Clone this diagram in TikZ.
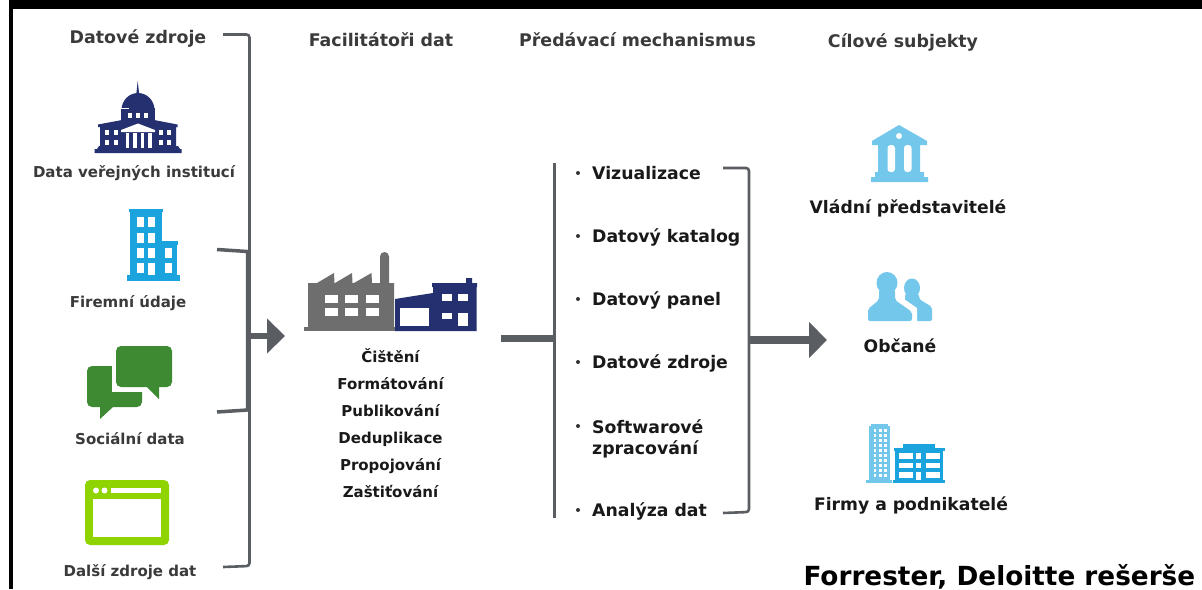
\documentclass[tikz,border=0pt]{standalone}
\usepackage{fontspec}
\setmainfont{DejaVu Sans}
\usepackage{xcolor}
\usetikzlibrary{arrows.meta}
\definecolor{navy}{HTML}{24306F}
\definecolor{skyblue}{HTML}{1BA3DE}
\definecolor{paleblue}{HTML}{72C7EA}
\definecolor{chatgreen}{HTML}{3D8A33}
\definecolor{limegreen}{HTML}{8FD400}
\definecolor{factorygray}{HTML}{6E6E6E}
\definecolor{bracegray}{HTML}{5A5D61}
\definecolor{labelgray}{HTML}{3A3A3A}
\tikzset{
	headlabel/.style={anchor=base,inner sep=0pt,text=labelgray,font=\fontsize{17.4}{19}\selectfont\bfseries},
	srclabel/.style={anchor=base,inner sep=0pt,text=labelgray,font=\fontsize{15}{17}\selectfont\bfseries},
	steplabel/.style={anchor=base,inner sep=0pt,text=black!90,font=\fontsize{15}{17}\selectfont\bfseries},
	listlabel/.style={anchor=base west,inner sep=0pt,text=black!90,font=\fontsize{17.3}{21}\selectfont\bfseries,align=left},
	targetlabel/.style={anchor=base,inner sep=0pt,text=black!90,font=\fontsize{17.2}{19}\selectfont\bfseries},
	brace/.style={draw=bracegray,line width=2.6pt,rounded corners=3pt},
	bigarrow/.style={draw=bracegray,line width=7.5pt,-{Triangle[length=18pt,width=35pt]}}
}
\begin{document}
\begin{tikzpicture}[x=1pt,y=-1pt]
	\useasboundingbox (0,0) rectangle (1202,589);
	\fill[white] (0,0) rectangle (1202,589);
	\fill[black] (9,0) rectangle (1202,9);
	\fill[black] (9,0) rectangle (13,589);
	
	\node[headlabel] (sources) at (138,43) {Datové zdroje};
	\node[headlabel] (facilitators) at (381,46) {Facilitátoři dat};
	\node[headlabel] (delivery) at (637.5,46) {Předávací mechanismus};
	\node[headlabel] (targets) at (903,47) {Cílové subjekty};
	
	% capitol
	\fill[navy] (136,97) -- (137.7,81) -- (139.5,97) -- cycle;
	\fill[navy] (121.5,110) arc [start angle=180,end angle=360,x radius=16.5,y radius=17] -- cycle;
	\fill[navy] (120.5,108) rectangle (154.5,121);
	\fill[white] (120,107.5) rectangle (129,108.5);
	\fill[navy] (98,124.5) -- (122,120) -- (154,120) -- (177.5,124.5) -- (177.5,127) -- (176,127) -- (176,146) -- (178,146) -- (180,149) -- (181.5,149) -- (181.5,153) -- (94.5,153) -- (94.5,149) -- (97,149) -- (99,146) -- (100,146) -- (100,127) -- (98,127) -- cycle;
	\foreach \wx in {128,136,144}
		\fill[white] (\wx,113) rectangle +(4,5);
	\fill[white] (121,130) -- (138,123.5) -- (155,130) -- (155,132) -- (121,132) -- cycle;
	\foreach \wx in {125.5,133,140.5,148}
		\fill[white] (\wx,133) rectangle +(3.5,15);
	\foreach \wx in {105,113.5,158.5,167}
		\foreach \wy in {130,140}
			\fill[white] (\wx,\wy) rectangle +(4,5);
	\node[srclabel] (publicdata) at (134,177) {Data veřejných institucí};
	
	% company building
	\fill[skyblue] (128.5,208.5) rectangle (163,212);
	\fill[skyblue] (130,212) rectangle (162,276);
	\fill[skyblue] (162,241) rectangle (178,244.5);
	\fill[skyblue] (162,244) rectangle (176.5,276);
	\fill[skyblue] (127,275) rectangle (179.5,281);
	\foreach \wx in {137,148}
		\foreach \wy in {217,233,248,263}
			\fill[white] (\wx,\wy) rectangle +(6.5,9.5);
	\fill[white] (148,263) rectangle +(6.5,12);
	\fill[white] (165,248) rectangle +(6.5,9.5);
	\fill[white] (165,263) rectangle +(6.5,9.5);
	\node[srclabel] (companydata) at (128,307) {Firemní údaje};
	
	% chat bubbles
	\fill[chatgreen,rounded corners=5pt] (87,366) rectangle (142,407);
	\fill[chatgreen] (100,405) -- (100,419) -- (113,407) -- cycle;
	\fill[white] (112,362) rectangle (146,392);
	\fill[chatgreen,rounded corners=5pt] (116,346) rectangle (172,387);
	\fill[chatgreen] (146,386) -- (159,399) -- (159,386) -- cycle;
	\node[srclabel] (socialdata) at (130,444) {Sociální data};
	
	% browser window
	\fill[limegreen,rounded corners=5pt] (85,480) rectangle (169,545);
	\fill[white] (93,499) rectangle (161,537);
	\fill[white] (96,490.5) circle (3);
	\fill[white] (104.5,490.5) circle (3);
	\fill[white] (111,488) rectangle (161,493);
	\node[srclabel] (otherdata) at (130,576) {Další zdroje dat};
	
	% source brackets
	\coordinate (srctop) at (223,34.5);
	\coordinate (srctopc) at (249.5,34.5);
	\coordinate (srcbot) at (223,567);
	\coordinate (srcbotc) at (249.5,566);
	\draw[brace] (srctop) -- (srctopc) -- (srcbotc) -- (srcbot);
	\coordinate (innertop) at (217,249.5);
	\coordinate (innertopc) at (247.5,251.5);
	\coordinate (innerbot) at (217,412);
	\coordinate (innerbotc) at (247.5,410);
	\draw[brace,line width=3.5pt,rounded corners=1pt] (innertop) -- (innertopc) -- (innerbotc) -- (innerbot);
	\coordinate (srcout) at (248,336);
	\coordinate (factoryin) at (285,336);
	\draw[bigarrow,line width=6pt,-{Triangle[length=18pt,width=34pt]}] (srcout) -- (factoryin);
	
	% factory
	\fill[factorygray] (308,328) -- (308,283) -- (317,283) -- (334,273) -- (334.5,283) -- (335,283) -- (352,273) -- (352.5,283) -- (354,283) -- (371.5,273) -- (372,283) -- (380,283) -- (380,256.5) arc [start angle=180,end angle=360,x radius=4.5,y radius=4.5] -- (389,283) -- (394,283) -- (394,328) -- cycle;
	\fill[factorygray] (304,327) rectangle (399,331);
	\foreach \wx in {325,345,366}
		\foreach \wy in {295,308}
			\fill[white] (\wx,\wy) rectangle +(12.5,7.5);
	\fill[navy] (395,299) -- (433,293) -- (433,287) -- (432,287) -- (432,283) -- (466,283) -- (466,278) -- (472,278) -- (472,283) -- (477,283) -- (477,287) -- (476.5,287) -- (476.5,331) -- (395,331) -- cycle;
	\fill[white] (400,308) rectangle (429,326);
	\fill[white] (442,294) rectangle (452,301);
	\fill[white] (458,294) rectangle (468,301);
	\fill[white] (442,313) rectangle (452,319);
	\fill[white] (458,313) rectangle (468,326);
	\node[steplabel] (cleaning) at (390.5,362) {Čištění};
	\node[steplabel] (formatting) at (390.5,389) {Formátování};
	\node[steplabel] (publishing) at (390.5,416) {Publikování};
	\node[steplabel] (dedup) at (390.5,443) {Deduplikace};
	\node[steplabel] (linking) at (390.5,470) {Propojování};
	\node[steplabel] (sponsoring) at (390.5,497) {Zaštiťování};
	
	% delivery list
	\coordinate (listtop) at (554,163);
	\coordinate (listbot) at (554,518);
	\coordinate (listmid) at (554,338);
	\coordinate (factoryout) at (501,338);
	\draw[draw=bracegray,line width=3pt] (listtop) -- (listbot);
	\draw[draw=bracegray,line width=7pt] (factoryout) -- (listmid);
	\node[listlabel] (visual) at (592,179) {Vizualizace};
	\node[listlabel] (catalog) at (592,242) {Datový katalog};
	\node[listlabel] (panel) at (592,305) {Datový panel};
	\node[listlabel] (datasrc) at (592,368) {Datové zdroje};
	\node[listlabel,anchor=north west] (software) at (592,419) {Softwarové\\zpracování};
	\node[listlabel] (analysis) at (592,516) {Analýza dat};
	\foreach \by in {173,236,299,362,426,510}
		\fill[black!80] (578,\by) circle (2);
	
	% delivery bracket
	\coordinate (listrtop) at (723,168);
	\coordinate (listrtopc) at (749,168);
	\coordinate (listrbot) at (723,513);
	\coordinate (listrbotc) at (749,512);
	\draw[brace] (listrtop) -- (listrtopc) -- (listrbotc) -- (listrbot);
	\coordinate (listout) at (750,340);
	\coordinate (targetin) at (827,340);
	\draw[bigarrow] (listout) -- (targetin);
	
	% government building
	\fill[paleblue] (899,125) -- (927,141) -- (927,145) -- (920,145) -- (920,172) -- (924,172) -- (924,177) -- (928,177) -- (928,182) -- (871,182) -- (871,177) -- (875,177) -- (875,172) -- (878,172) -- (878,145) -- (872,145) -- (872,141) -- cycle;
	\fill[white] (899,136) circle (3);
	\fill[white,rounded corners=3pt] (887.5,145) rectangle (895,172);
	\fill[white,rounded corners=3pt] (904,145) rectangle (911.5,172);
	\node[targetlabel] (officials) at (908,213) {Vládní představitelé};
	
	% people
	\fill[paleblue] (912,288) ellipse [x radius=8,y radius=9.5];
	\fill[paleblue,rounded corners=2pt] (919,294) -- (919,299) -- (932,307) -- (932,321) -- (916,321) -- (916,310) -- (905,302) -- (905,294) -- cycle;
	\fill[white] (901,297) -- (917,308) -- (917,322) -- (912,322) -- (912,312) -- (898,303) -- cycle;
	\fill[paleblue] (887,283) ellipse [x radius=10.5,y radius=11];
	\fill[paleblue,rounded corners=2pt] (879,290) -- (879,300) -- (868,309) -- (868,321) -- (912,321) -- (912,312) -- (895,300) -- (895,290) -- cycle;
	\node[targetlabel] (citizens) at (900,352) {Občané};
	
	% offices
	\fill[paleblue] (871,424) rectangle (888,426);
	\fill[paleblue] (869,426) rectangle (890,481);
	\fill[paleblue] (866,480) rectangle (892,483);
	\foreach \wx in {873.5,879,884}
		\foreach \wy in {429,434,439,444,449,454,459,464,469,474}
			\fill[white] (\wx,\wy) rectangle +(2.5,2.8);
	\fill[skyblue] (903,444) rectangle (935,449);
	\fill[skyblue] (893.5,448) rectangle (944.5,451);
	\fill[skyblue] (895,450) rectangle (943,481);
	\fill[skyblue] (892.5,480) rectangle (945,483);
	\foreach \wy/\wh in {453/5.5,463/5,472/6}{
		\fill[white] (899,\wy) rectangle +(14,\wh);
		\fill[white] (926,\wy) rectangle +(14,\wh);
		\fill[white] (916,\wy) rectangle +(5,\wh);
	}
	\fill[white] (916,472) rectangle +(5,8);
	\node[targetlabel] (companies) at (911,510) {Firmy a podnikatelé};
	
	\node[anchor=base east,inner sep=0pt,font=\fontsize{26.3}{28}\selectfont\bfseries] (credit) at (1195.5,585) {Forrester, Deloitte rešerše};
\end{tikzpicture}
\end{document}
